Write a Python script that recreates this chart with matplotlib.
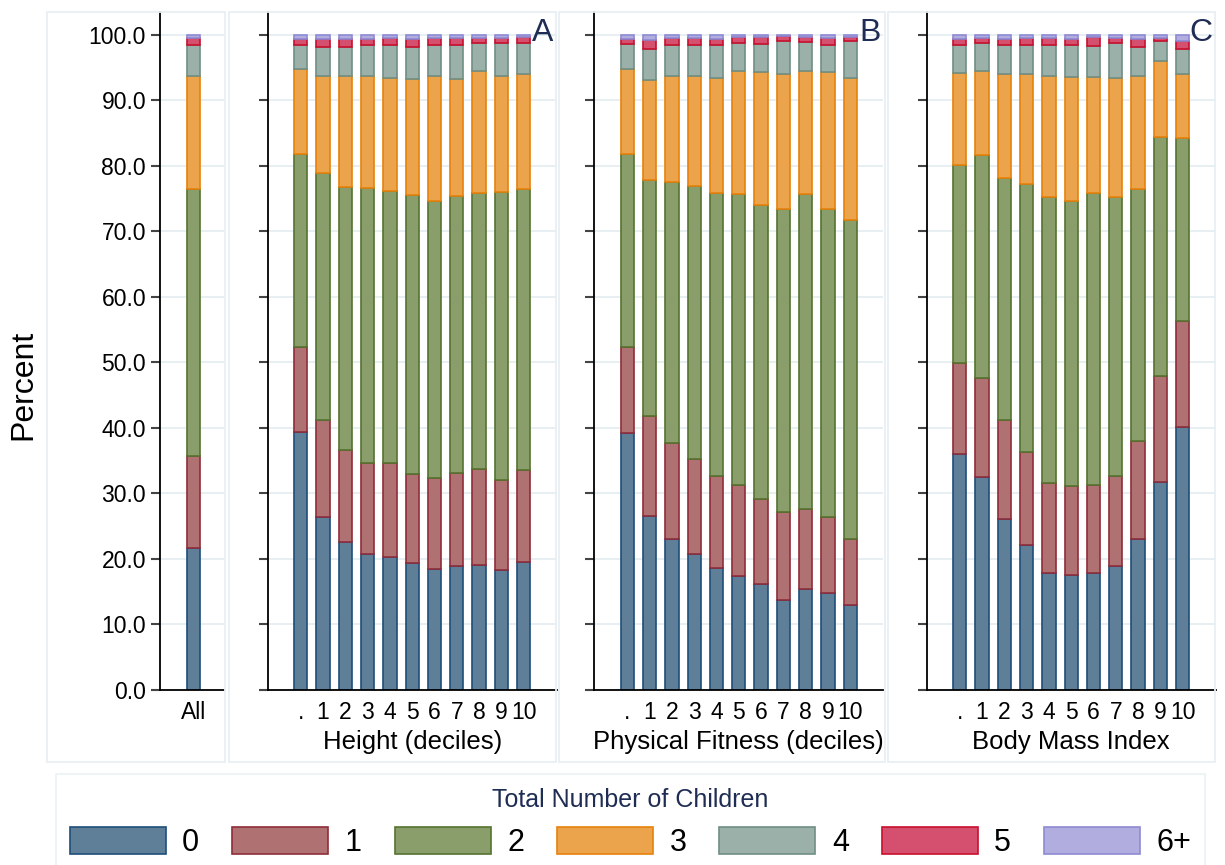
import numpy as np
import matplotlib
matplotlib.use("Agg")
import matplotlib.pyplot as plt
from matplotlib.patches import Rectangle

plt.rcParams['font.family'] = ['Liberation Sans', 'DejaVu Sans']

# ---- data (percent of men by total number of children) ----
child_groups = ['0', '1', '2', '3', '4', '5', '6+']
decile_labels = ['.', '1', '2', '3', '4', '5', '6', '7', '8', '9', '10']

all_share = [21.7, 14.0, 40.8, 17.3, 4.7, 1.0, 0.5]

height_0 = [39.4, 26.4, 22.6, 20.7, 20.3, 19.4, 18.5, 19.0, 19.1, 18.3, 19.6]
height_1 = [12.9, 14.8, 14.1, 13.9, 14.3, 13.6, 13.9, 14.1, 14.7, 13.7, 14.0]
height_2 = [29.5, 37.7, 40.1, 42.1, 41.5, 42.5, 42.3, 42.3, 42.1, 44.0, 42.9]
height_3 = [13.0, 14.8, 16.9, 17.1, 17.4, 17.7, 19.0, 17.8, 18.6, 17.8, 17.6]
height_4 = [3.7, 4.5, 4.5, 4.6, 5.0, 5.0, 4.7, 5.3, 4.2, 4.9, 4.7]
height_5 = [0.9, 1.2, 1.2, 1.0, 1.1, 1.2, 1.2, 1.0, 0.9, 0.9, 0.9]
height_6 = [0.6, 0.6, 0.6, 0.6, 0.4, 0.6, 0.4, 0.5, 0.4, 0.4, 0.3]

fitness_0 = [39.3, 26.6, 23.1, 20.8, 18.7, 17.4, 16.2, 13.7, 15.4, 14.8, 13.0]
fitness_1 = [13.0, 15.3, 14.6, 14.4, 13.9, 13.9, 13.0, 13.4, 12.2, 11.6, 10.0]
fitness_2 = [29.5, 36.0, 39.8, 41.7, 43.2, 44.4, 44.9, 46.4, 48.1, 47.1, 48.7]
fitness_3 = [13.0, 15.2, 16.3, 16.8, 17.7, 18.8, 20.3, 20.5, 18.8, 20.8, 21.8]
fitness_4 = [3.8, 4.8, 4.6, 4.8, 4.9, 4.2, 4.2, 5.0, 4.4, 4.2, 5.6]
fitness_5 = [0.8, 1.4, 1.1, 1.0, 1.0, 1.0, 1.1, 0.8, 0.8, 1.0, 0.6]
fitness_6 = [0.6, 0.7, 0.5, 0.5, 0.6, 0.3, 0.3, 0.2, 0.3, 0.5, 0.3]

bmi_0 = [36.0, 32.5, 26.1, 22.1, 17.8, 17.6, 17.9, 19.0, 23.1, 31.8, 40.2]
bmi_1 = [13.9, 15.2, 15.1, 14.3, 13.8, 13.6, 13.4, 13.7, 14.9, 16.2, 16.2]
bmi_2 = [30.3, 33.9, 37.0, 40.9, 43.7, 43.4, 44.5, 42.6, 38.5, 36.4, 27.9]
bmi_3 = [14.0, 12.9, 15.8, 16.7, 18.4, 19.0, 17.8, 18.1, 17.2, 11.6, 9.7]
bmi_4 = [4.2, 4.3, 4.4, 4.5, 4.8, 4.9, 4.7, 5.4, 4.5, 3.0, 3.8]
bmi_5 = [1.0, 0.7, 1.0, 1.1, 1.1, 0.9, 1.4, 0.8, 1.2, 0.6, 1.3]
bmi_6 = [0.6, 0.5, 0.6, 0.4, 0.4, 0.6, 0.3, 0.4, 0.6, 0.4, 0.9]

panels = [
    ('Height (deciles)', 'A',
     [height_0, height_1, height_2, height_3, height_4, height_5, height_6]),
    ('Physical Fitness (deciles)', 'B',
     [fitness_0, fitness_1, fitness_2, fitness_3, fitness_4, fitness_5, fitness_6]),
    ('Body Mass Index', 'C',
     [bmi_0, bmi_1, bmi_2, bmi_3, bmi_4, bmi_5, bmi_6]),
]

fills = ['#5f7f99', '#b07173', '#8a9e6b', '#eba44c', '#9bb0a8', '#d4506e', '#b1aedf']
edges = ['#1f4e79', '#8f2d3a', '#55732f', '#e8820c', '#6f8f84', '#c8102e', '#8f8ad4']
navy = '#1f2d54'
grid_col = '#e8eff2'

W, H = 1225, 865
fig = plt.figure(figsize=(W / 100, H / 100), dpi=100)


def px_rect(x0, y_top, w, h):
    # pixel box (top-left origin) -> figure fraction
    return [x0 / W, 1 - (y_top + h) / H, w / W, h / H]


# light outlines around each sub-graph
for x0, x1 in [(47, 225), (229, 556), (559, 885), (888, 1215)]:
    fig.patches.append(Rectangle((x0 / W, 1 - 762 / H), (x1 - x0) / W, (762 - 12) / H,
                                 transform=fig.transFigure, fill=False,
                                 edgecolor=grid_col, linewidth=1.3))


def style_axes(ax, show_labels):
    ax.set_ylim(0, 103.5)
    ax.set_yticks(np.arange(0, 101, 10))
    ax.yaxis.grid(True, color=grid_col, linewidth=1.4)
    ax.set_axisbelow(True)
    for s in ['top', 'right']:
        ax.spines[s].set_visible(False)
    for s in ['left', 'bottom']:
        ax.spines[s].set_color('black')
        ax.spines[s].set_linewidth(1.3)
    ax.tick_params(axis='y', length=6.5, width=1.5, color='#444444', pad=3.5,
                   labelsize=16.5, labelleft=show_labels)
    ax.tick_params(axis='x', length=0, pad=8, labelsize=16.5)
    if show_labels:
        ax.set_yticklabels([f'{v:.1f}' for v in np.arange(0, 101, 10)])


def stack(ax, x, series):
    bottom = np.zeros(len(x))
    handles = []
    for vals, fc, ec, lab in zip(series, fills, edges, child_groups):
        vals = np.asarray(vals, dtype=float)
        h = ax.bar(x, vals, width=0.6, bottom=bottom, color=fc, edgecolor=ec,
                   linewidth=1.2, label=lab)
        handles.append(h)
        bottom += vals
    return handles


# "All" panel
ax0 = fig.add_axes(px_rect(160, 12, 64, 678))
stack(ax0, [0], [[v] for v in all_share])
ax0.set_xlim(-1.49, 1.38)
ax0.set_xticks([0])
ax0.set_xticklabels(['All'])
style_axes(ax0, True)

# decile panels
xpos = np.arange(len(decile_labels))
handles = None
for left, (xtitle, letter, series) in zip([267.7, 594.3, 926.7], panels):
    ax = fig.add_axes(px_rect(left, 12, 289, 678))
    handles = stack(ax, xpos, series)
    ax.set_xlim(-1.48, 11.48)
    ax.set_xticks(xpos)
    ax.set_xticklabels(decile_labels)
    style_axes(ax, False)
    ax.set_xlabel(xtitle, fontsize=18.5, labelpad=4)
    ax.text(0.99, 0.991, letter, transform=ax.transAxes, ha='right', va='top',
            fontsize=23, color=navy)

fig.text(23 / W, 1 - 385 / H, 'Percent', rotation=90, ha='center', va='center',
         fontsize=23)

leg = fig.legend(handles=handles, labels=child_groups, loc='upper center',
                 bbox_to_anchor=(630.5 / W, 1 - 774 / H), ncol=7, fontsize=22,
                 title='Total Number of Children', title_fontsize=18,
                 handlelength=3.14, handleheight=1.0, handletextpad=0.54,
                 columnspacing=1.08, borderpad=0.45, borderaxespad=0,
                 frameon=True, fancybox=False, edgecolor=grid_col)
leg.get_title().set_color(navy)
leg.get_frame().set_linewidth(1.3)

fig.savefig('out.png', dpi=100)
